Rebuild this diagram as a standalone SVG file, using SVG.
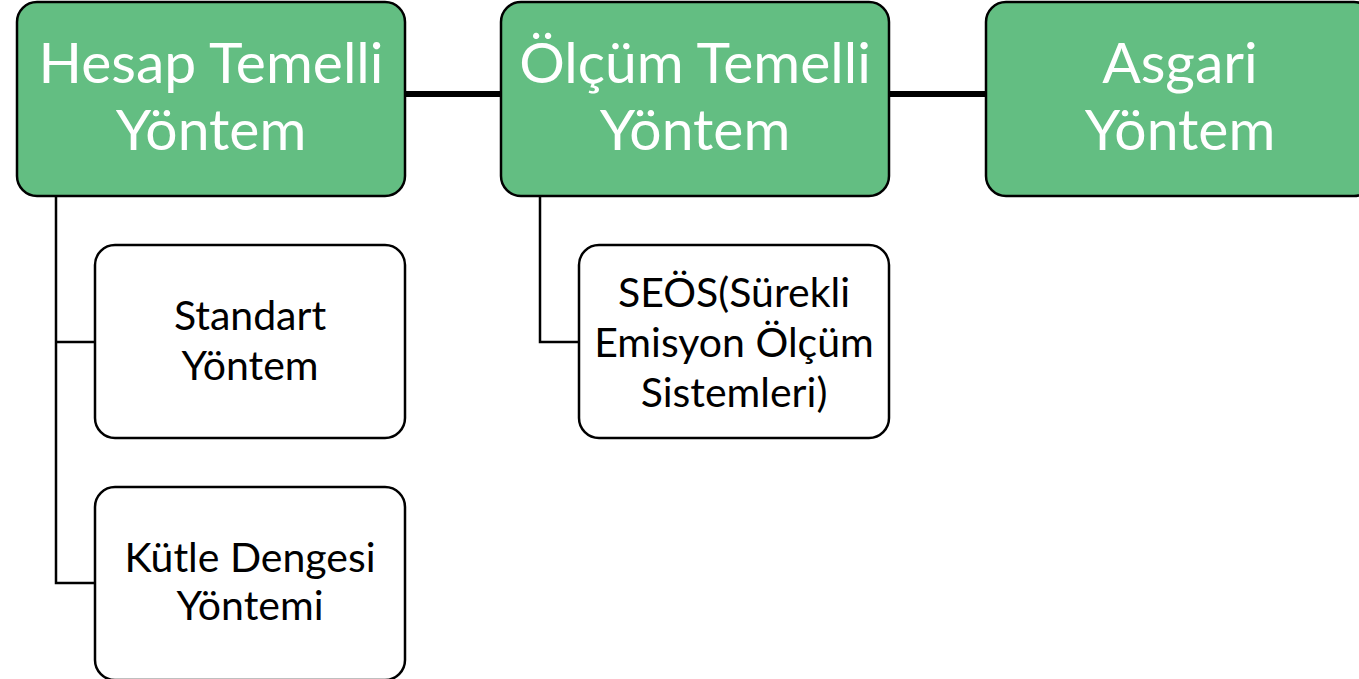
<svg xmlns="http://www.w3.org/2000/svg" width="1359" height="679" viewBox="0 0 1359 679">
  <style>
    .main { fill: #63be82; stroke: #000; stroke-width: 2.5; }
    .sub { fill: #fff; stroke: #000; stroke-width: 2.5; }
    .big { font-family: Lato, "Liberation Sans", sans-serif; font-size: 57px; fill: #fff; text-anchor: middle; }
    .small { font-family: Lato, "Liberation Sans", sans-serif; font-size: 41px; fill: #000; text-anchor: middle; }
    .link { fill: none; stroke: #000; stroke-width: 2.5; }
    .bar { fill: none; stroke: #000; stroke-width: 6; }
  </style>
  <rect width="1359" height="679" fill="#fff"/>

  <!-- connectors -->
  <g id="connectors">
    <line class="bar" x1="405" y1="94" x2="501" y2="94"/>
    <line class="bar" x1="889" y1="94" x2="986" y2="94"/>
    <path class="link" d="M56 196 V583 H95 M56 342 H95"/>
    <path class="link" d="M540 196 V342 H579"/>
  </g>

  <!-- top-level methods -->
  <g id="hesap">
    <rect class="main" x="17" y="2" width="388" height="194" rx="20"/>
    <text class="big" x="211" y="83">Hesap Temelli</text>
    <text class="big" x="211" y="150">Yöntem</text>
  </g>
  <g id="olcum">
    <rect class="main" x="501" y="2" width="388" height="194" rx="20"/>
    <text class="big" x="695" y="83">Ölçüm Temelli</text>
    <text class="big" x="695" y="150">Yöntem</text>
  </g>
  <g id="asgari">
    <rect class="main" x="986" y="2" width="388" height="194" rx="20"/>
    <text class="big" x="1180" y="83">Asgari</text>
    <text class="big" x="1180" y="150">Yöntem</text>
  </g>

  <!-- sub-methods -->
  <g id="standart">
    <rect class="sub" x="95" y="245" width="310" height="193" rx="20"/>
    <text class="small" x="250" y="330">Standart</text>
    <text class="small" x="250" y="380">Yöntem</text>
  </g>
  <g id="kutle">
    <rect class="sub" x="95" y="487" width="310" height="193" rx="20"/>
    <text class="small" x="250" y="572">Kütle Dengesi</text>
    <text class="small" x="250" y="620">Yöntemi</text>
  </g>
  <g id="seos">
    <rect class="sub" x="579" y="245" width="310" height="193" rx="20"/>
    <text class="small" x="734" y="307">SEÖS(Sürekli</text>
    <text class="small" x="734" y="357">Emisyon Ölçüm</text>
    <text class="small" x="734" y="407">Sistemleri)</text>
  </g>
</svg>
